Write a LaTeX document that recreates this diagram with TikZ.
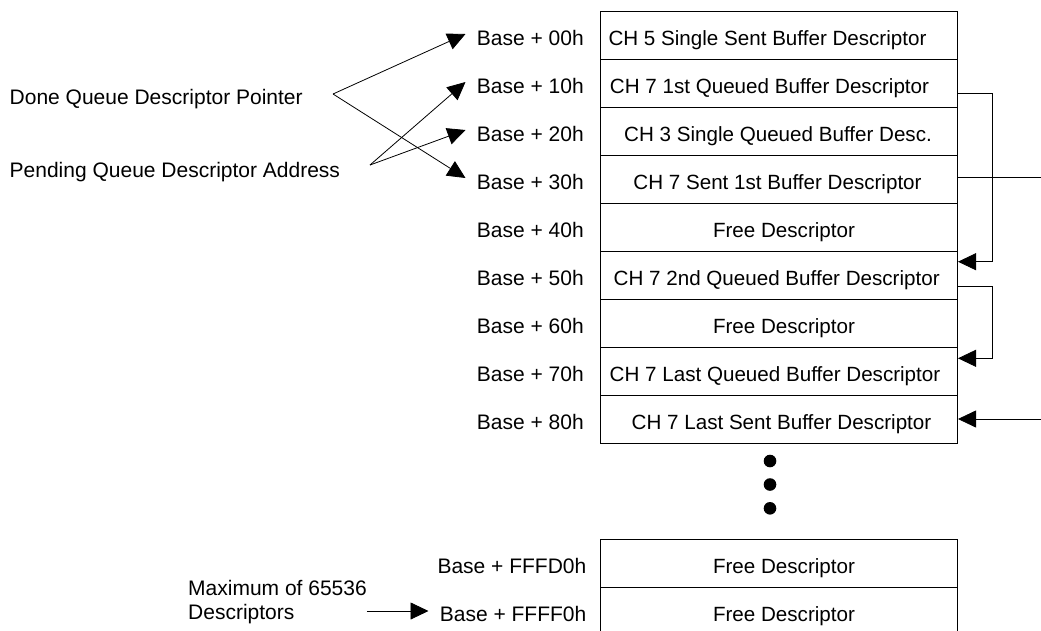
\documentclass[tikz,border=0pt]{standalone}
\usepackage{fontspec}
\setmainfont{Liberation Sans}
\usetikzlibrary{arrows.meta}
\begin{document}
\begin{tikzpicture}[x=1pt,y=-1pt,
  font=\fontsize{20.6pt}{24.5pt}\selectfont,
  rowbox/.style={draw, line width=1pt, minimum width=357.5pt, minimum height=48pt, inner sep=0pt, anchor=north west},
  txt/.style={inner sep=0pt, anchor=base},
  addr/.style={inner sep=0pt, anchor=base east, font=\fontsize{21pt}{24.5pt}\selectfont},
  lbl/.style={inner sep=0pt, anchor=base west, font=\fontsize{21pt}{24.5pt}\selectfont},
  conn/.style={line width=0.8pt},
  arr/.style={conn, -{Triangle[length=18pt,width=17pt]}},
  dot/.style={circle, fill=black, inner sep=0pt, minimum size=12.6pt}]
\clip (0,0) rectangle (1041,630);
% main table
\foreach \i/\h/\t/\xc in {
  0/00h/CH 5 Single Sent Buffer Descriptor/767.5,
  1/10h/CH 7 1st Queued Buffer Descriptor/769.5,
  2/20h/CH 3 Single Queued Buffer Desc./778,
  3/30h/CH 7 Sent 1st Buffer Descriptor/777.5,
  4/40h/Free Descriptor/784,
  5/50h/CH 7 2nd Queued Buffer Descriptor/776.7,
  6/60h/Free Descriptor/784,
  7/70h/CH 7 Last Queued Buffer Descriptor/775,
  8/80h/CH 7 Last Sent Buffer Descriptor/781.5}{
  \node[rowbox] (r\i) at (599.5,{10.5+48*\i}) {};
  \node[txt] (t\i) at (\xc,{45+48*\i}) {\t};
  \node[addr] (b\i) at (584,{45+48*\i}) {Base + \h};
  \coordinate (a\i) at (465.5,{34+48*\i});
}
% left labels
\node[lbl] (done) at (9.5,104) {Done Queue Descriptor Pointer};
\node[lbl] (pend) at (9.5,177) {Pending Queue Descriptor Address};
\coordinate (dv) at (333,94);
\coordinate (pv) at (370,165);
\draw[arr] (dv) -- (a0);
\draw[arr] (dv) -- (a3);
\draw[arr] (pv) -- (a1);
\draw[arr] (pv) -- (a2);
% right side links
\coordinate (k1) at (992,93.3);
\coordinate (k2) at (992,261.7);
\coordinate (k3) at (992,286.7);
\coordinate (k4) at (992,358.3);
\coordinate (e3) at (1045,177.7);
\coordinate (e8) at (1045,419);
\draw[arr] (r1.east |- k1) -- (k1) -- (k2) -- (r5.east |- k2);
\draw[conn] (r3.east |- e3) -- (e3);
\draw[arr] (r5.east |- k3) -- (k3) -- (k4) -- (r7.east |- k4);
\draw[arr] (e8) -- (r8.east |- e8);
% dots
\node[dot] (d1) at (770,461) {};
\node[dot] (d2) at (770,484.5) {};
\node[dot] (d3) at (770,508.3) {};
% bottom table
\node[rowbox] (f0) at (599.5,538.5) {};
\node[rowbox] (f1) at (599.5,586.5) {};
\node[txt] (ft0) at (784,573.3) {Free Descriptor};
\node[txt] (ft1) at (784,621) {Free Descriptor};
\node[addr] (bf0) at (586.5,573.3) {Base + FFFD0h};
\node[addr] (bf1) at (586.5,621) {Base + FFFF0h};
% maximum note
\node[lbl] (max1) at (188,595) {Maximum of 65536};
\node[lbl] (max2) at (188,619.5) {Descriptors};
\coordinate (am) at (428.5,611);
\draw[arr] (max1.east |- am) -- (am);
\end{tikzpicture}
\end{document}
